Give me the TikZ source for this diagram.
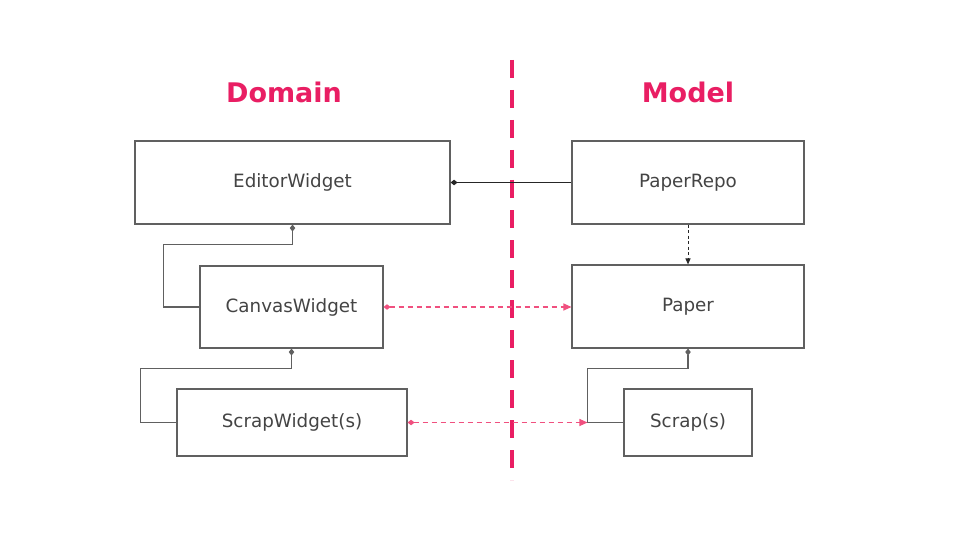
\documentclass[tikz,border=0pt]{standalone}
\usepackage{fontspec}
\setmainfont{DejaVu Sans}
\usetikzlibrary{arrows.meta,calc}
\definecolor{accent}{HTML}{E91E63}
\definecolor{linkpink}{HTML}{F0507F}
\definecolor{boxline}{HTML}{606060}
\definecolor{txt}{HTML}{444444}
\begin{document}
\begin{tikzpicture}[x=1pt,y=-1pt,
  box/.style={draw=boxline,line width=1.1pt,inner sep=0pt,text=txt,font=\fontsize{18.3}{21}\selectfont},
  title/.style={text=accent,font=\fontsize{27}{30}\selectfont\bfseries},
  comp/.style={draw=boxline,line width=1.2pt,{Diamond[length=7pt,width=5.5pt]}-},
  divider/.style={draw=accent,line width=3.5pt,dash pattern=on 18pt off 12pt},
  link/.style={draw=linkpink,line width=1.1pt,dash pattern=on 5pt off 4pt,{Diamond[length=7pt,width=5.5pt]}-{Triangle[length=8pt,width=7pt]}}
]
\useasboundingbox[fill=white] (0,0) rectangle (960,540);
\coordinate (dtop) at (512,60);
\coordinate (dbot) at (512,480);
\draw[divider] (dtop) -- (dbot);
\node[title] (tdom) at (284,92) {Domain};
\node[title] (tmod) at (688,92) {Model};
\node[box,minimum width=315pt,minimum height=83pt] (ew) at (292.5,182.5) {EditorWidget};
\node[box,minimum width=232pt,minimum height=83pt] (pr) at (688,182.5) {PaperRepo};
\node[box,minimum width=183pt,minimum height=82pt] (cw) at (291.5,307) {CanvasWidget};
\node[box,minimum width=232pt,minimum height=83pt] (pa) at (688,306.5) {Paper};
\node[box,minimum width=230pt,minimum height=67pt] (sw) at (292,422.5) {ScrapWidget(s)};
\node[box,minimum width=128pt,minimum height=67pt] (sc) at (688,422.5) {Scrap(s)};
\draw[line width=1.3pt,draw=black!85,{Diamond[length=7pt,width=5.5pt]}-] (ew.east) -- (pr.west);
\draw[line width=1pt,draw=black!85,dash pattern=on 3pt off 2.5pt,-{Triangle[length=6pt,width=5pt]}] (pr.south) -- (pa.north);
\draw[comp] (ew.south) -- ++(0,20) -| ([xshift=-36pt]cw.west) -- (cw.west);
\draw[comp] (cw.south) -- ++(0,20) -| ([xshift=-36pt]sw.west) -- (sw.west);
\draw[comp] (pa.south) -- ++(0,20) -| ([xshift=-36pt]sc.west) -- (sc.west);
\draw[link] (cw.east) -- (cw.east -| pa.west);
\draw[link] (sw.east) -- ([xshift=-36pt]sc.west);
\end{tikzpicture}
\end{document}
